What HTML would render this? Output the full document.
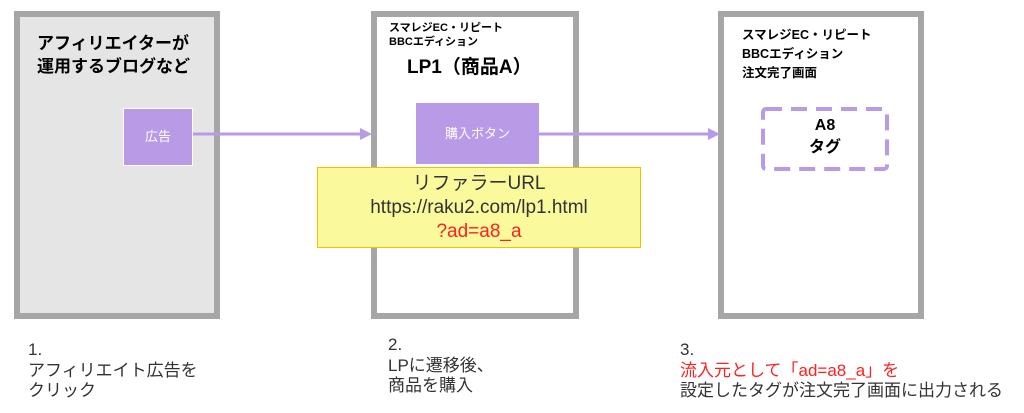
<!DOCTYPE html>
<html><head><meta charset="utf-8"><style>
body{margin:0;width:1024px;height:413px;background:#fff;position:relative;overflow:hidden;font-family:"Liberation Sans","Noto Sans CJK JP",sans-serif;}
.a{position:absolute;box-sizing:border-box;}
.box{border:6px solid #a6a6a6;}
.t{position:absolute;white-space:nowrap;color:#000;}
.lbl{font-size:17px;line-height:20.5px;color:#333;}
</style></head><body>
<div class="a box" style="left:14px;top:11px;width:206px;height:308px;background:#e5e5e5"></div>
<div class="t" style="left:37px;top:32px;font-size:17px;font-weight:bold;line-height:23px">アフィリエイターが<br>運用するブログなど</div>
<div class="a" style="left:123px;top:108px;width:70px;height:58px;background:#b99ae6;border:1px solid #fff;color:#fff;font-size:13px;text-align:center;line-height:56px">広告</div>

<div class="a box" style="left:371px;top:11px;width:208px;height:308px;background:#fff"></div>
<div class="t" style="left:389px;top:21px;font-size:11px;font-weight:bold;line-height:14px">スマレジEC・リピート<br>BBCエディション</div>
<div class="t" style="left:407px;top:52px;font-size:19px;font-weight:bold">LP1（商品A）</div>
<div class="a" style="left:416px;top:103px;width:123px;height:61px;background:#b99ae6;color:#fff;font-size:13px;text-align:center;line-height:61px">購入ボタン</div>

<div class="a box" style="left:718px;top:11px;width:206px;height:308px;background:#fff"></div>
<div class="t" style="left:742px;top:26px;font-size:12.5px;font-weight:bold;line-height:19px">スマレジEC・リピート<br>BBCエディション<br>注文完了画面</div>
<svg class="a" style="left:760px;top:106px" width="130" height="66">
<rect x="3" y="3" width="124" height="60" rx="3" fill="none" stroke="#b99ae6" stroke-width="4" stroke-dasharray="16,9"/>
</svg>
<div class="t" style="left:763px;width:124px;top:115px;text-align:center;font-weight:bold;font-size:16px;line-height:22px">A8<br>タグ</div>

<svg class="a" style="left:0;top:0" width="1024" height="413">
<line x1="193" y1="134" x2="362" y2="134" stroke="#b99ae6" stroke-width="3"/>
<polygon points="372,134 360,128 360,140" fill="#b99ae6"/>
<line x1="539" y1="134" x2="710" y2="134" stroke="#b99ae6" stroke-width="3"/>
<polygon points="720,134 708,128 708,140" fill="#b99ae6"/>
</svg>

<div class="a" style="left:317px;top:167px;width:324px;height:81px;background:#fafa9c;border:1px solid #f5c000;text-align:center;font-size:19px;line-height:24px;padding-top:4px;color:#333">リファラーURL<br>https://raku2.com/lp1.html<br><span style="color:#ff2020">?ad=a8_a</span></div>

<div class="t lbl" style="left:28px;top:340px">1.<br>アフィリエイト広告を<br>クリック</div>
<div class="t lbl" style="left:388px;top:335px">2.<br>LPに遷移後、<br>商品を購入</div>
<div class="t lbl" style="left:680px;top:340px">3.<br><span style="color:#ff2020">流入元として「ad=a8_a」を</span><br>設定したタグが注文完了画面に出力される</div>
</body></html>
